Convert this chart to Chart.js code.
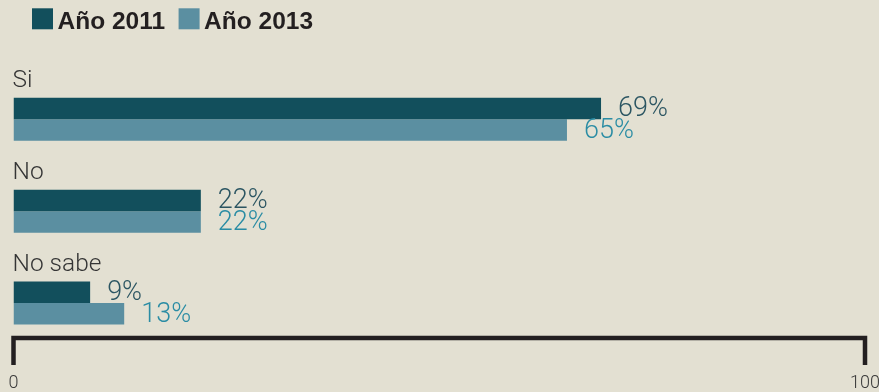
<!DOCTYPE html>
<html lang="es">
<head>
<meta charset="utf-8">
<title>Año 2011 / Año 2013</title>
<script src="https://cdn.jsdelivr.net/npm/chart.js@4/dist/chart.umd.min.js"></script>
<style>
  html, body { margin: 0; padding: 0; background: #e3e0d2; }
  #wrap { width: 879px; height: 392px; position: relative; }
</style>
</head>
<body>
<div id="wrap"><canvas id="chart" width="879" height="392"></canvas></div>
<script>
// Answer categories and the share of each answer per survey year (%)
const categories = ['Si', 'No', 'No sabe'];
const values2011 = [69, 22, 9];
const values2013 = [65, 22, 13];
const seriesNames = ['Año 2011', 'Año 2013'];
const axisTicks = [0, 100];

const barColors = ['#124f5c', '#5b8fa1'];
const valueColors = ['#2b5562', '#2a8ca4'];
const LIGHT = '"Roboto", "Liberation Sans", sans-serif';

// Legend, category captions, value labels and the bracket-shaped axis
const decorations = {
  id: 'decorations',
  afterDraw(chart) {
    const ctx = chart.ctx;
    const area = chart.chartArea;
    const x = chart.scales.x;

    // legend
    ctx.save();
    ctx.font = 'bold 24.5px "Liberation Sans", Arial, sans-serif';
    ctx.textBaseline = 'alphabetic';
    let lx = 32;
    chart.data.datasets.forEach((ds, i) => {
      ctx.fillStyle = ds.backgroundColor;
      ctx.fillRect(lx, 8.3, 21, 21);
      lx += 25.5;
      ctx.fillStyle = '#231f20';
      ctx.fillText(ds.label, lx, 28.5);
      lx += ctx.measureText(ds.label).width + 13.5;
    });
    ctx.restore();

    // category captions above each pair of bars
    const first = chart.getDatasetMeta(0).data;
    ctx.save();
    ctx.font = '300 24.5px ' + LIGHT;
    ctx.fillStyle = '#353535';
    ctx.textAlign = 'left';
    ctx.textBaseline = 'alphabetic';
    chart.data.labels.forEach((label, i) => {
      const bar = first[i];
      ctx.fillText(label, area.left - 1, bar.y - bar.height / 2 - 11);
    });
    ctx.restore();

    // value labels at the end of each bar
    ctx.save();
    ctx.font = '300 27px ' + LIGHT;
    ctx.textAlign = 'left';
    ctx.textBaseline = 'middle';
    chart.data.datasets.forEach((ds, d) => {
      const meta = chart.getDatasetMeta(d);
      ctx.fillStyle = valueColors[d];
      meta.data.forEach((bar, i) => {
        ctx.fillText(ds.data[i] + '%', bar.x + 17, bar.y + 1);
      });
    });
    ctx.restore();

    // bracket axis
    const x0 = x.getPixelForValue(axisTicks[0]);
    const x1 = x.getPixelForValue(axisTicks[axisTicks.length - 1]);
    const yLine = area.bottom - 11;
    const yEnd = area.bottom + 16;
    ctx.save();
    ctx.strokeStyle = '#231f20';
    ctx.lineWidth = 4.5;
    ctx.lineJoin = 'miter';
    ctx.lineCap = 'butt';
    ctx.beginPath();
    ctx.moveTo(x0, yEnd);
    ctx.lineTo(x0, yLine);
    ctx.lineTo(x1, yLine);
    ctx.lineTo(x1, yEnd);
    ctx.stroke();
    ctx.restore();
  }
};

new Chart(document.getElementById('chart'), {
  type: 'bar',
  data: {
    labels: categories,
    datasets: [
      { label: seriesNames[0], data: values2011, backgroundColor: barColors[0],
        barPercentage: 1, categoryPercentage: 0.468 },
      { label: seriesNames[1], data: values2013, backgroundColor: barColors[1],
        barPercentage: 1, categoryPercentage: 0.468 }
    ]
  },
  options: {
    indexAxis: 'y',
    responsive: false,
    animation: false,
    devicePixelRatio: 1,
    layout: { padding: { left: 13.5, right: 14, top: 73.4, bottom: 0 } },
    plugins: {
      legend: { display: false },
      tooltip: { enabled: false }
    },
    scales: {
      x: {
        min: 0,
        max: 100,
        afterBuildTicks(scale) {
          scale.ticks = axisTicks.map(v => ({ value: v }));
        },
        afterFit(scale) {
          scale.height = 43;
          scale.paddingLeft = 0;
          scale.paddingRight = 0;
        },
        grid: { display: false, drawTicks: false },
        border: { display: false },
        ticks: {
          padding: 24,
          maxRotation: 0,
          autoSkip: false,
          color: '#3a3a3a',
          font: { family: LIGHT, weight: '300', size: 18 }
        }
      },
      y: { display: false }
    }
  },
  plugins: [decorations]
});
</script>
</body>
</html>
